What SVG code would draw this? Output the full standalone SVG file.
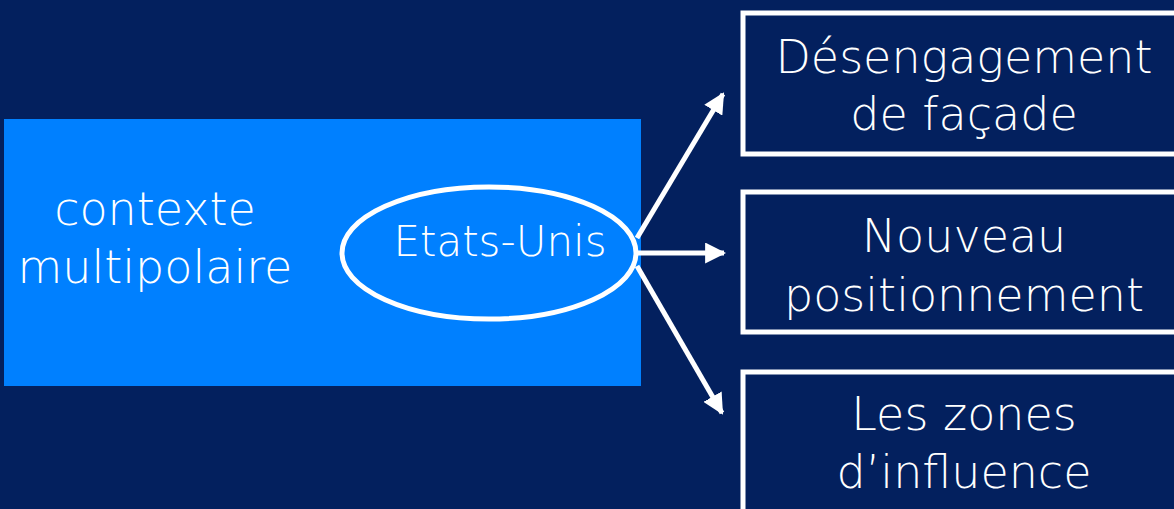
<svg xmlns="http://www.w3.org/2000/svg" width="1174" height="509" viewBox="0 0 1174 509">
<defs>
<style>
.t{font-family:"DejaVu Sans","Liberation Sans",sans-serif;font-weight:200;fill:#fff;text-anchor:middle;font-size:46px}
.box{fill:#03205e;stroke:#fff;stroke-width:5}
.conn{stroke:#fff;stroke-width:5;fill:none}
</style>
<marker id="ah" viewBox="0 0 10 10" refX="9" refY="5" markerWidth="21" markerHeight="21" markerUnits="userSpaceOnUse" orient="auto">
<path d="M0,0 L10,5 L0,10 z" fill="#fff"/>
</marker>
</defs>
<rect width="1174" height="509" fill="#03205e"/>
<g id="contexte">
<rect x="4" y="119" width="637" height="267" fill="#0080ff"/>
<text class="t" x="155" y="225">contexte</text>
<text class="t" x="155" y="283">multipolaire</text>
</g>
<g id="etats-unis">
<ellipse cx="489" cy="253" rx="147" ry="66" fill="none" stroke="#fff" stroke-width="5"/>
<text class="t" x="500" y="256" style="font-size:42px">Etats-Unis</text>
</g>
<g id="connectors">
<line class="conn" x1="637" y1="238" x2="723" y2="94" marker-end="url(#ah)"/>
<line class="conn" x1="637" y1="253" x2="724" y2="253" marker-end="url(#ah)"/>
<line class="conn" x1="637" y1="266" x2="722" y2="413" marker-end="url(#ah)"/>
</g>
<g id="desengagement">
<rect class="box" x="743" y="13" width="440" height="141"/>
<text class="t" x="964" y="73">Désengagement</text>
<text class="t" x="964" y="130">de façade</text>
</g>
<g id="nouveau">
<rect class="box" x="743" y="192" width="440" height="140"/>
<text class="t" x="964" y="252">Nouveau</text>
<text class="t" x="964" y="311">positionnement</text>
</g>
<g id="zones">
<rect class="box" x="743" y="372" width="440" height="150"/>
<text class="t" x="964" y="430">Les zones</text>
<text class="t" x="964" y="488">d’influence</text>
</g>
</svg>
